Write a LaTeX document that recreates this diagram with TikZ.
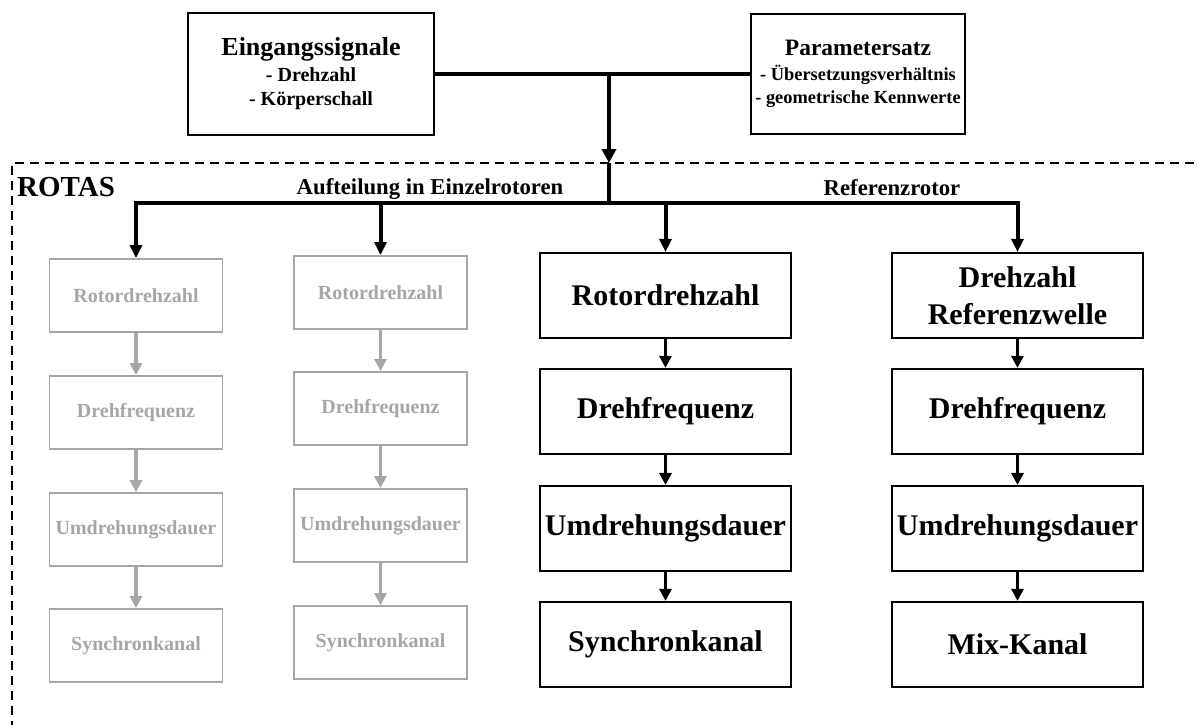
\documentclass[tikz,border=0pt]{standalone}
\usepackage{fontspec}
\setmainfont{Liberation Serif}
\usetikzlibrary{arrows.meta}
\definecolor{lgrey}{RGB}{166,166,166}
\begin{document}
\begin{tikzpicture}[x=1pt,y=-1pt,
  topbox/.style={draw, line width=2.2pt, inner sep=0pt, align=center},
  blk/.style={draw, line width=2.2pt, minimum width=251pt, minimum height=85pt, inner sep=0pt, align=center, font=\bfseries\fontsize{30}{36.5}\selectfont},
  gry/.style={draw=lgrey, text=lgrey, line width=1.9pt, minimum width=173pt, minimum height=73pt, inner sep=0pt, font=\bfseries\fontsize{20}{24}\selectfont},
  blkarr/.style={line width=3pt, -{Triangle[length=12pt,width=12pt]}},
  gryarr/.style={draw=lgrey, line width=3.5pt, -{Triangle[length=12pt,width=12pt]}},
  mainline/.style={line width=4.5pt},
  mainarr/.style={line width=4.5pt, -{Triangle[length=14pt,width=14pt]}},
  brancharr/.style={line width=4pt, -{Triangle[length=13pt,width=12pt]}},
  lbl/.style={inner sep=0pt, anchor=base, font=\bfseries\fontsize{22.7}{27}\selectfont}
]
\useasboundingbox (0,0) rectangle (1197,724);

% dashed ROTAS frame
\draw[line width=2pt, dash pattern=on 9pt off 6pt] (12,730) -- (12,163) -- (1205,163);

% top boxes
\node[topbox, minimum width=246pt, minimum height=122pt, font=\bfseries\fontsize{20}{24.5}\selectfont] (ein) at (311,74)
  {{\fontsize{26}{26}\selectfont Eingangssignale}\\[1pt] - Drehzahl\\ - Körperschall};
\node[topbox, minimum width=214pt, minimum height=120pt, font=\bfseries\fontsize{18.4}{23.5}\selectfont] (par) at (858,74)
  {{\fontsize{23.5}{24}\selectfont Parametersatz}\\[1pt] - Übersetzungsverhältnis\\ - geometrische Kennwerte};

% labels
\node[inner sep=0pt, anchor=base west, font=\bfseries\fontsize{29}{30}\selectfont] (rotas) at (17,196) {ROTAS};
\node[lbl] (auf) at (430,194) {Aufteilung in Einzelrotoren};
\node[lbl] (ref) at (892,195) {Referenzrotor};

% grey column 1
\node[gry] (g1a) at (136,295.5) {Rotordrehzahl};
\node[gry] (g1b) at (136,412.5) {Drehfrequenz};
\node[gry] (g1c) at (136,529.5) {Umdrehungsdauer};
\node[gry] (g1d) at (136,645.5) {Synchronkanal};
% grey column 2
\node[gry] (g2a) at (380.5,292.5) {Rotordrehzahl};
\node[gry] (g2b) at (380.5,408.5) {Drehfrequenz};
\node[gry] (g2c) at (380.5,525.5) {Umdrehungsdauer};
\node[gry] (g2d) at (380.5,642.5) {Synchronkanal};
% black column 3
\node[blk] (b1a) at (665.5,295.5) {Rotordrehzahl};
\node[blk] (b1b) at (665.5,411.5) {Drehfrequenz};
\node[blk] (b1c) at (665.5,528.5) {Umdrehungsdauer};
\node[blk] (b1d) at (665.5,644.5) {Synchronkanal};
% black column 4
\node[blk] (b2a) at (1017.5,295.5) {Drehzahl\\Referenzwelle};
\node[blk] (b2b) at (1017.5,411.5) {Drehfrequenz};
\node[blk] (b2c) at (1017.5,528.5) {Umdrehungsdauer};
\node[blk] (b2d) at (1017.5,644.5) {Mix-Kanal};

% main connectors
\coordinate (j) at (609,74);
\coordinate (entry) at (609,163);
\coordinate (split) at (609,203);
\draw[mainline] (ein.east) -- (par.west);
\draw[mainarr] (j) -- (entry);
\draw[line width=4pt] (entry) -- (split);
\draw[brancharr] (split) -| (g1a.north);
\draw[brancharr] (split) -| (g2a.north);
\draw[brancharr] (split) -| (b1a.north);
\draw[brancharr] (split) -| (b2a.north);

% column arrows
\draw[gryarr] (g1a) -- (g1b);
\draw[gryarr] (g1b) -- (g1c);
\draw[gryarr] (g1c) -- (g1d);
\draw[gryarr] (g2a) -- (g2b);
\draw[gryarr] (g2b) -- (g2c);
\draw[gryarr] (g2c) -- (g2d);
\draw[blkarr] (b1a) -- (b1b);
\draw[blkarr] (b1b) -- (b1c);
\draw[blkarr] (b1c) -- (b1d);
\draw[blkarr] (b2a) -- (b2b);
\draw[blkarr] (b2b) -- (b2c);
\draw[blkarr] (b2c) -- (b2d);
\end{tikzpicture}
\end{document}
